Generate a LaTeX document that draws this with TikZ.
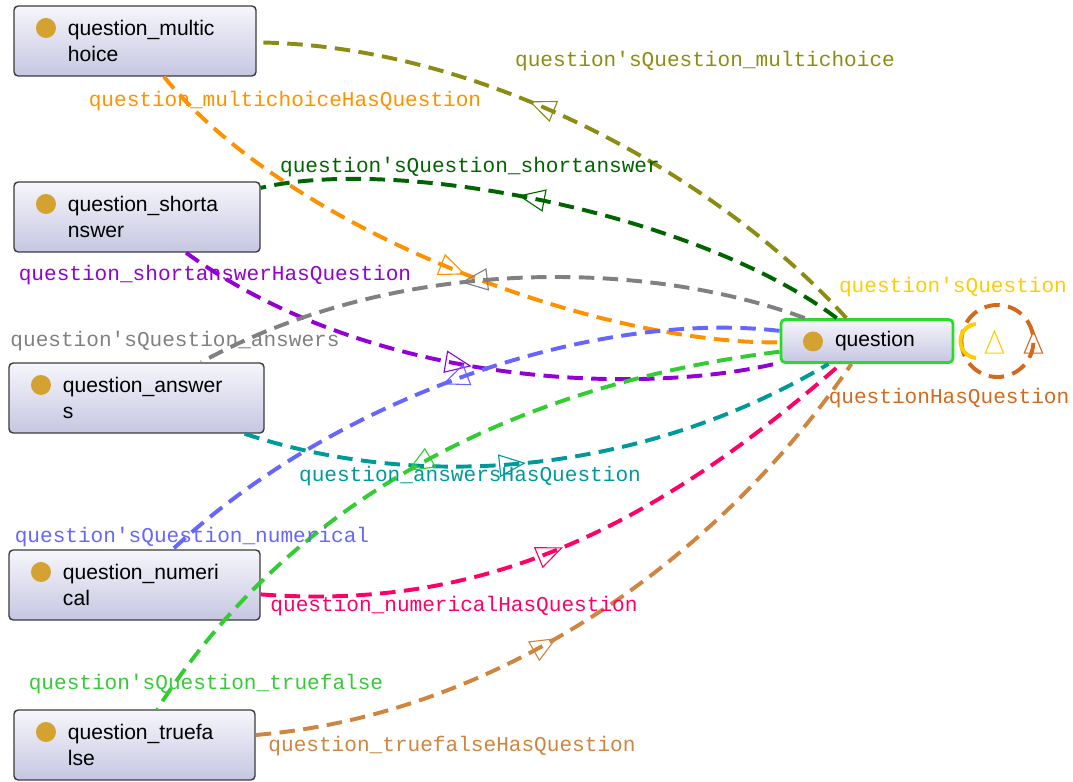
\documentclass[tikz,border=0pt]{standalone}
\usepackage{fontspec}
\setsansfont{Liberation Sans}
\setmonofont{Liberation Mono}
\usetikzlibrary{calc}
\usetikzlibrary{arrows.meta}
\usetikzlibrary{decorations.markings}

\definecolor{dotcol}{RGB}{212,162,48}
\definecolor{boxline}{RGB}{60,60,60}
\definecolor{boxtop}{RGB}{246,246,252}
\definecolor{boxbot}{RGB}{198,198,226}
\definecolor{qline}{RGB}{40,220,40}
\definecolor{olivec}{RGB}{140,140,20}
\definecolor{orangec}{RGB}{255,145,0}
\definecolor{dgreen}{RGB}{0,100,0}
\definecolor{purplec}{RGB}{148,0,211}
\definecolor{grayc}{RGB}{128,128,128}
\definecolor{tealc}{RGB}{0,153,153}
\definecolor{bluec}{RGB}{102,102,255}
\definecolor{greenc}{RGB}{51,204,51}
\definecolor{pinkc}{RGB}{255,0,102}
\definecolor{tanc}{RGB}{205,133,63}
\definecolor{yellowc}{RGB}{255,204,0}
\definecolor{brownc}{RGB}{210,105,30}

\tikzset{
  cls/.style={draw=boxline, line width=1pt, rounded corners=3pt, top color=boxtop, bottom color=boxbot,
    text width=#1, inner xsep=0pt, minimum height=1.75cm, align=left,
    font=\sffamily\fontsize{15}{18.5}\selectfont, execute at begin node={\leftskip=1.35cm},
    path picture={\fill[dotcol] ([shift={(32,22)}]path picture bounding box.north west) circle[radius=10];}},
  lbl/.style={font=\ttfamily\fontsize{15}{18}\selectfont, inner sep=1pt},
  link/.style={#1, line width=2.8pt, dash pattern=on 11pt off 6pt},
  tip/.style={postaction={decorate, decoration={markings, mark=at position #1 with
    {\arrow{Triangle[open, length=19pt, width=16pt, line width=0.8pt]}}}}},
  looptip/.style={postaction={decorate, decoration={markings, mark=at position #1 with
    {\pgftransformxshift{8pt}\arrow{Triangle[open, length=17pt, width=14pt, line width=0.8pt]}}}}}
}

\begin{document}
\begin{tikzpicture}[x=0.025cm, y=-0.025cm]
\useasboundingbox (0,0) rectangle (1073,782);

\node[cls=6.05cm] (multichoice) at (135,41) {question\_multic\\hoice};
\node[cls=6.15cm] (shortanswer) at (137,217) {question\_shorta\\nswer};
\node[cls=6.375cm] (answers) at (136.5,398) {question\_answer\\s};
\node[cls=6.275cm] (numerical) at (134.5,585) {question\_numeri\\cal};
\node[cls=6.025cm] (truefalse) at (134.5,745) {question\_truefa\\lse};
\node[cls=4.3cm, draw=qline, line width=2pt, minimum height=1.075cm] (question) at (867,341) {question};

\draw[link=olivec, tip=.58] (question) .. controls (715,173) and (480,45) .. (multichoice);
\draw[link=orangec, tip=.53] (multichoice) .. controls (290,232) and (600,345) .. (question);
\draw[link=dgreen, tip=.57] (question) .. controls (700,215) and (400,155) .. (shortanswer);
\draw[link=purplec, tip=.5] (shortanswer) .. controls (375,390) and (650,395) .. (question);
\draw[link=grayc, tip=.56] (question) .. controls (639,257) and (390,258) .. (answers);
\draw[link=tealc, tip=.47] (answers) .. controls (430,495) and (650,470) .. (question);
\draw[link=bluec, tip=.52] (question) .. controls (600,310) and (341,392.5) .. (numerical);
\draw[link=greenc, tip=.53] (question) .. controls (590,375) and (320,455) .. (truefalse);
\draw[link=pinkc, tip=.48] (numerical) .. controls (470,610) and (640,540) .. (question);
\draw[link=tanc, tip=.44] (truefalse) .. controls (496,715) and (717,561) .. (question);

\draw[link=brownc, looptip=.5]
  ($(question.east)+(7,0)$) arc[start angle=180, end angle=-180, radius=36];
\draw[link=yellowc, dash pattern=on 36pt off 40pt, dash phase=18pt, looptip=.5]
  ($(question.east)+(6,0)$) arc[start angle=180, end angle=-180, radius=17];

\node[lbl, text=olivec] (multichoiceinv) at (705,61) {question'sQuestion\_multichoice};
\node[lbl, text=orangec] (multichoicehas) at (285,101) {question\_multichoiceHasQuestion};
\node[lbl, text=dgreen] (shortanswerinv) at (470,167) {question'sQuestion\_shortanswer};
\node[lbl, text=purplec] (shortanswerhas) at (215,275) {question\_shortanswerHasQuestion};
\node[lbl, text=grayc] (answersinv) at (175,341) {question'sQuestion\_answers};
\node[lbl, text=tealc] (answershas) at (470,476) {question\_answersHasQuestion};
\node[lbl, text=bluec] (numericalinv) at (192,537) {question'sQuestion\_numerical};
\node[lbl, text=greenc] (truefalseinv) at (206,684) {question'sQuestion\_truefalse};
\node[lbl, text=pinkc] (numericalhas) at (454,606) {question\_numericalHasQuestion};
\node[lbl, text=tanc] (truefalsehas) at (452,746) {question\_truefalseHasQuestion};
\node[lbl, text=yellowc] (questioninv) at (953,287) {question'sQuestion};
\node[lbl, text=brownc] (questionhas) at (949,398) {questionHasQuestion};
\end{tikzpicture}
\end{document}
